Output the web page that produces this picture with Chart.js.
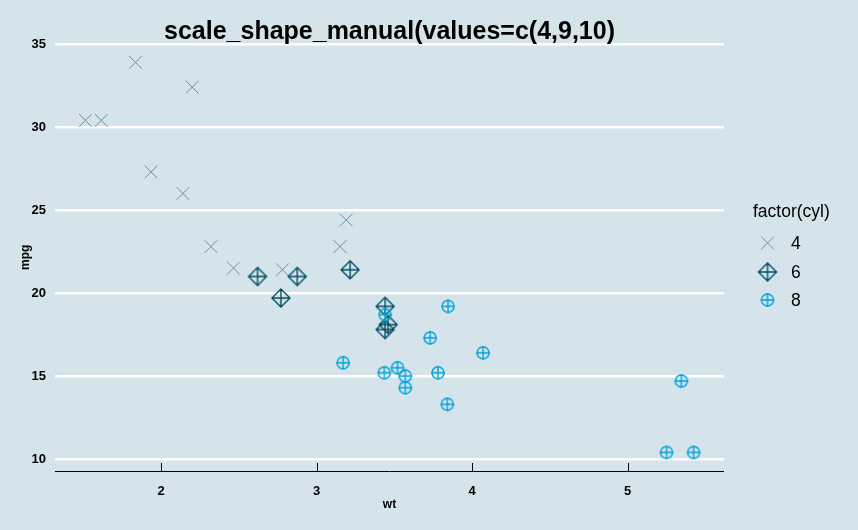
<!DOCTYPE html>
<html>
<head>
<meta charset="utf-8">
<script src="https://cdn.jsdelivr.net/npm/chart.js@4.4.0/dist/chart.umd.min.js"></script>
<style>
  html, body { margin: 0; padding: 0; background: #d5e4eb; }
  #plot { display: block; }
</style>
</head>
<body>
<canvas id="plot" width="858" height="530"></canvas>
<script>
// mtcars : wt / mpg par nombre de cylindres
const wt4 = [2.320, 3.190, 3.150, 2.200, 1.615, 1.835, 2.465, 1.935, 2.140, 1.513, 2.780];
const mpg4 = [22.8, 24.4, 22.8, 32.4, 30.4, 33.9, 21.5, 27.3, 26.0, 30.4, 21.4];
const wt6 = [2.620, 2.875, 3.215, 3.460, 3.440, 3.440, 2.770];
const mpg6 = [21.0, 21.0, 21.4, 18.1, 19.2, 17.8, 19.7];
const wt8 = [3.440, 3.570, 4.070, 3.730, 3.780, 5.250, 5.424, 5.345, 3.520, 3.435, 3.840, 3.845, 3.170, 3.570];
const mpg8 = [18.7, 14.3, 16.4, 17.3, 15.2, 10.4, 10.4, 14.7, 15.5, 15.2, 13.3, 19.2, 15.8, 15.0];

const xTicks = [2, 3, 4, 5];
const yTicks = [10, 15, 20, 25, 30, 35];
const cylLevels = ['4', '6', '8'];

const BG = '#d5e4eb';
const COL4 = '#6794a7';
const COL6 = '#014d64';
const COL8 = '#01a2d9';
const FONT = '"Liberation Sans", Arial, sans-serif';

// Formes ggplot 9 (losange +) et 10 (cercle +)
function makeDiamondPlus(color) {
    const c = document.createElement('canvas');
    c.width = 22; c.height = 22;
    const g = c.getContext('2d');
    const m = 11, r = 9;
    g.strokeStyle = color;
    g.lineWidth = 1.4;
    g.beginPath();
    g.moveTo(m, m - r); g.lineTo(m + r, m); g.lineTo(m, m + r); g.lineTo(m - r, m); g.closePath();
    g.moveTo(m, m - r); g.lineTo(m, m + r);
    g.moveTo(m - r, m); g.lineTo(m + r, m);
    g.stroke();
    return c;
}

function makeCirclePlus(color) {
    const c = document.createElement('canvas');
    c.width = 18; c.height = 18;
    const g = c.getContext('2d');
    const m = 9, r = 6;
    g.strokeStyle = color;
    g.lineWidth = 1.4;
    g.beginPath();
    g.arc(m, m, r, 0, Math.PI * 2);
    g.moveTo(m, m - r - 1); g.lineTo(m, m + r + 1);
    g.moveTo(m - r - 1, m); g.lineTo(m + r + 1, m);
    g.stroke();
    return c;
}

const diamondImg = makeDiamondPlus(COL6);
const circleImg = makeCirclePlus(COL8);

const toPoints = (xs, ys) => xs.map((x, i) => ({ x: x, y: ys[i] }));

// Zone du panneau
const PANEL = { left: 55, right: 724, top: 42.8, bottom: 471.9 };

const decorPlugin = {
    id: 'decor',
    beforeDraw(chart) {
        const ctx = chart.ctx;
        ctx.save();
        ctx.fillStyle = BG;
        ctx.fillRect(0, 0, chart.width, chart.height);
        ctx.restore();
    },
    afterDraw(chart) {
        const ctx = chart.ctx;
        const xs = chart.scales.x;
        const area = chart.chartArea;
        ctx.save();

        // Axe x + graduations vers l'intérieur
        ctx.strokeStyle = '#000';
        ctx.lineWidth = 1;
        ctx.beginPath();
        ctx.moveTo(area.left, 471.5);
        ctx.lineTo(area.right, 471.5);
        xTicks.forEach(v => {
            const px = Math.round(xs.getPixelForValue(v)) + 0.5;
            ctx.moveTo(px, 471.5);
            ctx.lineTo(px, 463);
        });
        ctx.stroke();

        // Titre
        ctx.fillStyle = '#000';
        ctx.textAlign = 'center';
        ctx.textBaseline = 'alphabetic';
        ctx.font = 'bold 25px ' + FONT;
        ctx.fillText('scale_shape_manual(values=c(4,9,10)', (area.left + area.right) / 2, 39);

        // Titres des axes
        ctx.font = 'bold 12px ' + FONT;
        ctx.textBaseline = 'middle';
        ctx.fillText('wt', (area.left + area.right) / 2, 505);
        ctx.save();
        ctx.translate(26, (area.top + area.bottom) / 2);
        ctx.rotate(-Math.PI / 2);
        ctx.fillText('mpg', 0, 0);
        ctx.restore();

        // Légende
        ctx.textAlign = 'left';
        ctx.font = '17.5px ' + FONT;
        ctx.fillText('factor(cyl)', 753, 212);
        const ly = [243, 272, 300];
        const lx = 767.5;
        // 4 : croix
        ctx.strokeStyle = COL4;
        ctx.lineWidth = 1;
        ctx.beginPath();
        ctx.moveTo(lx - 6.5, ly[0] - 6.5); ctx.lineTo(lx + 6.5, ly[0] + 6.5);
        ctx.moveTo(lx + 6.5, ly[0] - 6.5); ctx.lineTo(lx - 6.5, ly[0] + 6.5);
        ctx.stroke();
        ctx.drawImage(diamondImg, lx - diamondImg.width / 2, ly[1] - diamondImg.height / 2);
        ctx.drawImage(circleImg, lx - circleImg.width / 2, ly[2] - circleImg.height / 2);
        ctx.fillStyle = '#000';
        cylLevels.forEach((lab, i) => ctx.fillText(lab, 791, ly[i] + 1));

        ctx.restore();
    }
};

new Chart(document.getElementById('plot'), {
    type: 'scatter',
    data: {
        datasets: [
            {
                label: '8',
                data: toPoints(wt8, mpg8),
                pointStyle: circleImg,
                pointRadius: 6,
                pointHoverRadius: 6
            },
            {
                label: '6',
                data: toPoints(wt6, mpg6),
                pointStyle: diamondImg,
                pointRadius: 9,
                pointHoverRadius: 9
            },
            {
                label: '4',
                data: toPoints(wt4, mpg4),
                pointStyle: 'crossRot',
                pointRadius: 9,
                pointHoverRadius: 9,
                borderColor: COL4,
                backgroundColor: COL4,
                pointBorderWidth: 1
            }
        ]
    },
    options: {
        responsive: false,
        animation: false,
        devicePixelRatio: 1,
        layout: {
            padding: { left: 0, right: 858 - PANEL.right, top: PANEL.top, bottom: 0 }
        },
        plugins: {
            legend: { display: false },
            tooltip: { enabled: false }
        },
        scales: {
            x: {
                type: 'linear',
                min: 1.3175,
                max: 5.6195,
                afterBuildTicks: s => { s.ticks = xTicks.map(v => ({ value: v })); },
                afterFit: s => { s.height = 530 - PANEL.bottom; },
                grid: { display: false, drawTicks: false },
                border: { display: false },
                ticks: {
                    padding: 12,
                    color: '#000',
                    font: { family: FONT, size: 13, weight: 'bold' }
                }
            },
            y: {
                type: 'linear',
                min: 9.225,
                max: 35.075,
                afterBuildTicks: s => { s.ticks = yTicks.map(v => ({ value: v })); },
                afterFit: s => { s.width = PANEL.left; },
                grid: { color: '#ffffff', lineWidth: 2.5, drawTicks: false },
                border: { display: false },
                ticks: {
                    padding: 9,
                    color: '#000',
                    font: { family: FONT, size: 13, weight: 'bold' }
                }
            }
        }
    },
    plugins: [decorPlugin]
});
</script>
</body>
</html>
